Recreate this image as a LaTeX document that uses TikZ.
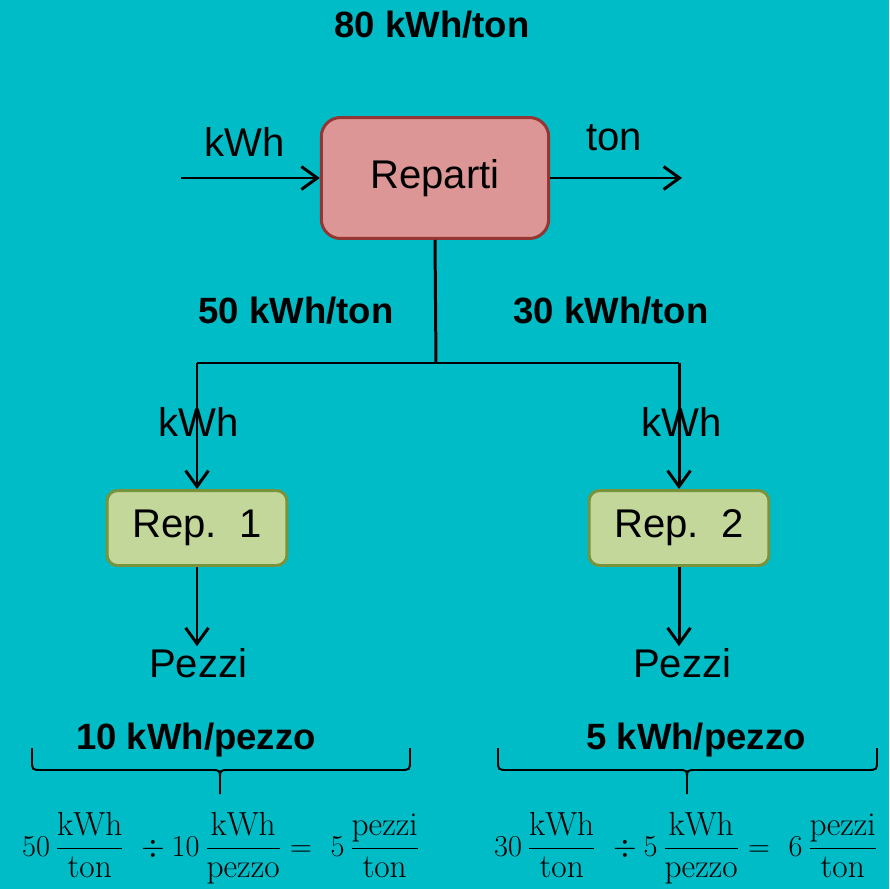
\documentclass[tikz,border=0pt]{standalone}
\usepackage{amsmath}
\usepackage{fontspec}
\newfontfamily\sansf{Liberation Sans}
\usetikzlibrary{arrows.meta}
\definecolor{bgteal}{HTML}{00BCC6}
\definecolor{repfill}{HTML}{DB9695}
\definecolor{repline}{HTML}{943634}
\definecolor{subfill}{HTML}{C4D79B}
\definecolor{subline}{HTML}{77933C}
\newcommand{\bigtxt}{\sansf\fontsize{22.8}{26}\selectfont}
\newcommand{\boldtxt}{\sansf\fontsize{20.8}{24}\selectfont\bfseries}
\newcommand{\eqtxt}{\fontsize{19}{23}\selectfont}
\tikzset{
  flow/.style={line width=1.7pt, -{Straight Barb[length=9pt,width=13pt,line width=1.7pt]}},
  plain/.style={line width=1.7pt},
  mainbox/.style={draw=repline, fill=repfill, line width=1.7pt, rounded corners=11pt,
    minimum width=4.55cm, minimum height=2.42cm, font=\bigtxt},
  subbox/.style={draw=subline, fill=subfill, line width=1.7pt, rounded corners=6pt,
    minimum width=3.6cm, minimum height=1.5cm, font=\bigtxt},
  lbl/.style={font=\bigtxt, inner sep=1pt},
  val/.style={font=\boldtxt, inner sep=1pt},
  curly/.style={line width=1.1pt}
}

\begin{document}
\begin{tikzpicture}[x=0.02cm, y=-0.02cm]

\useasboundingbox (0,0) rectangle (889,889);
\fill[bgteal] (0,0) rectangle (889,889);

\node[val] (tot) at (432,25) {80 kWh/ton};
\node[mainbox] (rep) at (435,178) {Reparti};
\coordinate (in) at (181,178);
\coordinate (out) at (682,178);
\node[lbl] (kin) at (245,142) {kWh};
\node[lbl] (tout) at (614,138) {ton};
\draw[flow] (in) -- (rep);
\draw[flow] (rep) -- (out);

\node[val] (v1) at (296,311) {50 kWh/ton};
\node[val] (v2) at (611,311) {30 kWh/ton};
\coordinate (j) at (436,363);
\coordinate (jl) at (197,363);
\coordinate (jr) at (679,363);
\draw[plain] (rep.south) -- (j);
\draw[plain] (jl) -- (jr);

\node[subbox] (r1) at (197,528) {Rep.\ \ 1};
\node[subbox] (r2) at (679,528) {Rep.\ \ 2};
\node[lbl] (k1) at (199,422) {kWh};
\node[lbl] (k2) at (682,422) {kWh};
\draw[flow] (jl) -- (r1);
\draw[flow] (jr) -- (r2);

\node[lbl] (p1) at (198,663) {Pezzi};
\node[lbl] (p2) at (682,663) {Pezzi};
\draw[flow] (r1.south) -- (r1.south |- p1.north);
\draw[flow] (r2.south) -- (r2.south |- p2.north);

\node[val] (e1) at (196,740) {10 kWh/pezzo};
\node[val] (e2) at (696,740) {5 kWh/pezzo};
\foreach \l/\m/\r in {32/220/410, 498/687/877}
  \draw[curly] (\l,748) -- (\l,760) .. controls (\l,770) .. (\l+10,770)
    -- (\m-9,770) .. controls (\m,770) .. (\m,779) -- (\m,794)
    (\m,779) .. controls (\m,770) .. (\m+9,770)
    -- (\r-10,770) .. controls (\r,770) .. (\r,760) -- (\r,748);

\node[font=\eqtxt, inner sep=0pt] (f1) at (221,848)
  {$50\,\dfrac{\mathrm{kWh}}{\mathrm{ton}}\ \div 10\,\dfrac{\mathrm{kWh}}{\mathrm{pezzo}} = \ 5\,\dfrac{\mathrm{pezzi}}{\mathrm{ton}}$};
\node[font=\eqtxt, inner sep=0pt] (f2) at (686,848)
  {$30\,\dfrac{\mathrm{kWh}}{\mathrm{ton}}\ \div 5\,\dfrac{\mathrm{kWh}}{\mathrm{pezzo}} = \ 6\,\dfrac{\mathrm{pezzi}}{\mathrm{ton}}$};

\end{tikzpicture}
\end{document}
